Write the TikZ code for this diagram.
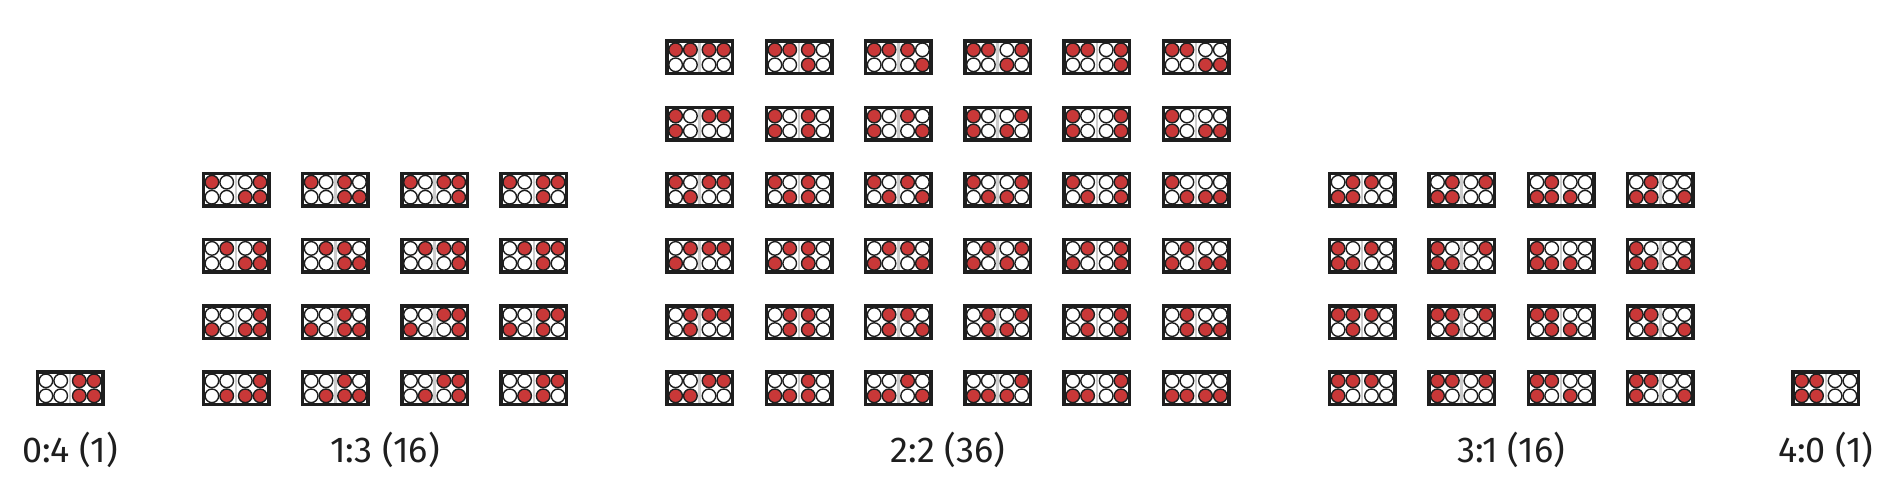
\documentclass[tikz,border=0pt]{standalone}
\usepackage{fontspec}
\setmainfont{Fira Sans}
\definecolor{ballred}{RGB}{201,56,56}
\definecolor{boxdark}{RGB}{30,30,30}
\definecolor{stripegray}{RGB}{205,205,205}
\tikzset{
  boxnode/.style={draw=boxdark, line width=3.5pt, fill=white, rectangle,
    minimum width=65.5pt, minimum height=32.5pt, inner sep=0pt},
  ball/.style={draw=boxdark, line width=1.4pt},
  stripe/.style={fill=stripegray},
  lbl/.style={anchor=base, font=\fontsize{36}{42}\selectfont, text=boxdark, inner sep=0pt},
}
\newcommand\splitQ[4]{\def\qa{#1}\def\qb{#2}\def\qc{#3}\def\qd{#4}}
\newcommand\oneball[3]{\ifnum#3=1 \def\fc{ballred}\else\def\fc{white}\fi
  \draw[ball, fill=\fc] (#1,#2) circle[radius=6.8pt];}
% name, x, y, left bits (a b e f), right bits (c d g h)
\newcommand\ballbox[5]{%
  \node[boxnode] (#1) at (#2,#3) {};
  \fill[stripe] (#2-1.25,#3-14.5) rectangle (#2+1.25,#3+14.5);
  \expandafter\splitQ#4
  \oneball{#2-24.1}{#3-7.5}{\qa}
  \oneball{#2-9.3}{#3-7.5}{\qb}
  \oneball{#2-24.1}{#3+7.5}{\qc}
  \oneball{#2-9.3}{#3+7.5}{\qd}
  \expandafter\splitQ#5
  \oneball{#2+9.3}{#3-7.5}{\qa}
  \oneball{#2+24.1}{#3-7.5}{\qb}
  \oneball{#2+9.3}{#3+7.5}{\qc}
  \oneball{#2+24.1}{#3+7.5}{\qd}
}
\begin{document}
\begin{tikzpicture}[x=1pt, y=-1pt]
\useasboundingbox (0,0) rectangle (1888,488);
% 0:4
\ballbox{b04}{70}{388.3}{0000}{1111}
% 1:3
\foreach \L [count=\ri from 2] in {1000,0100,0010,0001}{
  \foreach \R [count=\ci from 0] in {0111,1011,1101,1110}{
    \ballbox{b13-\ri-\ci}{236+99.3*\ci}{57.3+66.2*\ri}{\L}{\R}
  }
}
% 2:2
\foreach \L [count=\ri from 0] in {1100,1010,1001,0110,0101,0011}{
  \foreach \R [count=\ci from 0] in {1100,1010,1001,0110,0101,0011}{
    \ballbox{b22-\ri-\ci}{699.7+99.3*\ci}{57.3+66.2*\ri}{\L}{\R}
  }
}
% 3:1
\foreach \L [count=\ri from 2] in {0111,1011,1101,1110}{
  \foreach \R [count=\ci from 0] in {1000,0100,0010,0001}{
    \ballbox{b31-\ri-\ci}{1362.2+99.4*\ci}{57.3+66.2*\ri}{\L}{\R}
  }
}
% 4:0
\ballbox{b40}{1825.8}{388.3}{1111}{0000}
% labels
\node[lbl] (l04) at (70,462) {0:4 (1)};
\node[lbl] (l13) at (385,462) {1:3 (16)};
\node[lbl] (l22) at (948,462) {2:2 (36)};
\node[lbl] (l31) at (1511.3,462) {3:1 (16)};
\node[lbl] (l40) at (1825.8,462) {4:0 (1)};
\end{tikzpicture}
\end{document}
